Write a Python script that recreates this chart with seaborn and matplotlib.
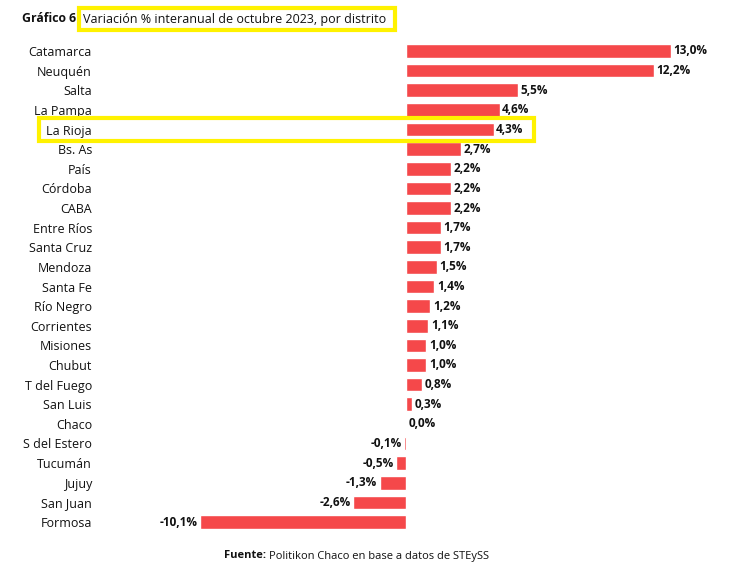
import matplotlib
matplotlib.use("Agg")
import matplotlib.pyplot as plt
import seaborn as sns
import pandas as pd
from matplotlib.patches import Rectangle

sns.set_theme(style="white")
plt.rcParams['font.family'] = ['Open Sans', 'DejaVu Sans']

distritos = ['Catamarca', 'Neuquén', 'Salta', 'La Pampa', 'La Rioja', 'Bs. As', 'País',
             'Córdoba', 'CABA', 'Entre Ríos', 'Santa Cruz', 'Mendoza', 'Santa Fe',
             'Río Negro', 'Corrientes', 'Misiones', 'Chubut', 'T del Fuego', 'San Luis',
             'Chaco', 'S del Estero', 'Tucumán', 'Jujuy', 'San Juan', 'Formosa']
variacion = [13.0, 12.2, 5.5, 4.6, 4.3, 2.7, 2.2, 2.2, 2.2, 1.7, 1.7, 1.5, 1.4,
             1.2, 1.1, 1.0, 1.0, 0.8, 0.3, 0.0, -0.1, -0.5, -1.3, -2.6, -10.1]

RED = '#F5484A'
YELLOW = '#FFF200'
INK = '#111111'

df = pd.DataFrame({'distrito': distritos, 'variacion': variacion})

W, H = 741, 588
fig = plt.figure(figsize=(W / 100, H / 100), dpi=100)
# axes spans px 110..700 horizontally, rows from y=51 to y=522
n = len(distritos)
step = (522 - 51) / (n - 1)
top_px = 51 - step / 2
bot_px = 522 + step / 2
ax = fig.add_axes([110 / W, 1 - bot_px / H, 590 / W, (bot_px - top_px) / H])

sns.barplot(data=df, y='distrito', x='variacion', orient='h', color=RED,
            saturation=1, width=0.7, ax=ax)

scale = 20.35  # px per unit
ax.set_xlim((110 - 406) / scale, (700 - 406) / scale)
ax.set_ylim(n - 0.5, -0.5)
for s in ax.spines.values():
    s.set_visible(False)
ax.set_xticks([])
ax.set_xlabel('')
ax.set_ylabel('')
ax.tick_params(axis='y', length=0, pad=13, labelsize=9, labelcolor=INK)

for i, v in enumerate(variacion):
    txt = f"{v:.1f}%".replace('.', ',')
    if v >= 0:
        ax.text(v + 0.12, i, txt, ha='left', va='center', fontsize=8.5,
                fontweight='bold', color=INK)
    else:
        ax.text(v - 0.12, i, txt, ha='right', va='center', fontsize=8.5,
                fontweight='bold', color=INK)

# highlight La Rioja row
fig.patches.append(Rectangle((39 / W, 1 - 141 / H), (534 - 39) / W, (141 - 118) / H,
                             transform=fig.transFigure, fill=False,
                             edgecolor=YELLOW, linewidth=3, zorder=5))

# title
fig.text(22 / W, 1 - 19 / H, 'Gráfico 6', ha='left', va='center', fontsize=8.8,
         fontweight='bold', color=INK)
fig.text(83 / W, 1 - 19 / H, 'Variación % interanual de octubre 2023, por distrito',
         ha='left', va='center', fontsize=9, color=INK)
fig.patches.append(Rectangle((79 / W, 1 - 30 / H), (395 - 79) / W, (30 - 8) / H,
                             transform=fig.transFigure, fill=False,
                             edgecolor=YELLOW, linewidth=3, zorder=5))

# source
src_b = fig.text(224 / W, 1 - 556 / H, 'Fuente:', ha='left', va='center', fontsize=8,
                 fontweight='bold', color=INK)
fig.canvas.draw()
bb = src_b.get_window_extent()
fig.text((bb.x1 + 3) / W, 1 - 556 / H, 'Politikon Chaco en base a datos de STEySS',
         ha='left', va='center', fontsize=8, color=INK)

fig.savefig('out.png', dpi=100, facecolor='white')
